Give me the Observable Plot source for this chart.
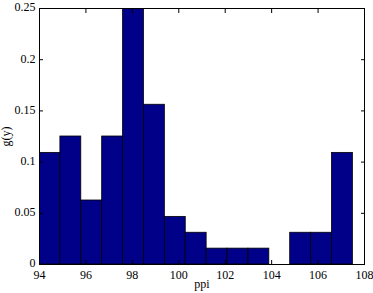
<!DOCTYPE html>
<html><head><meta charset="utf-8">
<script src="https://cdn.jsdelivr.net/npm/d3@7"></script>
<script src="https://cdn.jsdelivr.net/npm/@observablehq/plot@0.6"></script>
<style>body{margin:0;background:#fff}svg{display:block}</style>
</head><body><div id="chart"></div>
<script>
const binStart = [94.0, 94.9, 95.8, 96.7, 97.6, 98.5, 99.4, 100.3, 101.2, 102.1, 103.0, 103.9, 104.8, 105.7, 106.6];
const binEnd   = [94.9, 95.8, 96.7, 97.6, 98.5, 99.4, 100.3, 101.2, 102.1, 103.0, 103.9, 104.8, 105.7, 106.6, 107.5];
const density  = [0.109, 0.125, 0.0625, 0.125, 0.25, 0.156, 0.0465, 0.031, 0.0155, 0.0155, 0.0155, 0, 0.031, 0.031, 0.109];
const xTicks = [94, 96, 98, 100, 102, 104, 106, 108];
const yTicks = [0, 0.05, 0.1, 0.15, 0.2, 0.25];
const yTickLabels = ["0", "0.05", "0.1", "0.15", "0.2", "0.25"];

const data = binStart.map((s, i) => ({x1: s, x2: binEnd[i], y: density[i]}));
const font = "'Liberation Serif', 'DejaVu Serif', serif";

const chart = Plot.plot({
  width: 373, height: 293,
  marginLeft: 39, marginRight: 9, marginTop: 8, marginBottom: 29,
  style: {fontFamily: font, fontSize: "11px", color: "#000", background: "#fff"},
  x: {domain: [94, 108]},
  y: {domain: [0, 0.25]},
  marks: [
    Plot.rectY(data, {x1: "x1", x2: "x2", y: "y", fill: "#000088", stroke: "#000", strokeWidth: 0.8, clip: true}),
    Plot.axisX({ticks: xTicks, tickSize: -4, text: null, label: null, anchor: "bottom"}),
    Plot.axisX({ticks: xTicks, tickSize: -4, text: null, label: null, anchor: "top"}),
    Plot.axisX({ticks: xTicks, tickSize: 0, tickPadding: 6, anchor: "bottom", label: "ppi", labelAnchor: "center", labelArrow: "none", labelOffset: 23, fontSize: 12}),
    Plot.axisY({ticks: yTicks, tickSize: -4, text: null, label: null, anchor: "left"}),
    Plot.axisY({ticks: yTicks, tickSize: -4, text: null, label: null, anchor: "right"}),
    Plot.axisY({ticks: yTicks, tickSize: 0, tickPadding: 4, dy: -1, anchor: "left", tickFormat: (d, i) => yTickLabels[i], label: "g(y)", labelAnchor: "center", labelArrow: "none", labelOffset: 38, fontSize: 12}),
    Plot.frame({stroke: "#000", strokeWidth: 1})
  ]
});
document.getElementById("chart").appendChild(chart);
</script></body></html>
